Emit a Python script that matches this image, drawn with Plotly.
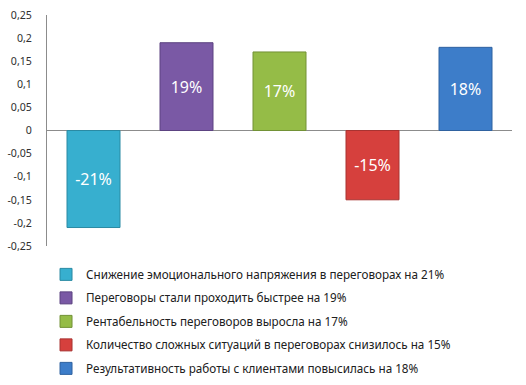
import plotly.graph_objects as go

series_names = [
    "Снижение эмоционального напряжения в переговорах на 21%",
    "Переговоры стали проходить быстрее на 19%",
    "Рентабельность переговоров выросла на 17%",
    "Количество сложных ситуаций в переговорах снизилось на 15%",
    "Результативность работы с клиентами повысилась на 18%",
]
values = [-0.21, 0.19, 0.17, -0.15, 0.18]
labels = ["-21%", "19%", "17%", "-15%", "18%"]
colors = ["#37AFCF", "#7A59A5", "#95BC47", "#D6403D", "#3D7DC9"]
lines = ["#2A8AA3", "#5C4381", "#729236", "#A83331", "#2F62A0"]
tick_vals = [0.25, 0.2, 0.15, 0.1, 0.05, 0, -0.05, -0.1, -0.15, -0.2, -0.25]
tick_text = ["0,25", "0,2", "0,15", "0,1", "0,05", "0", "-0,05", "-0,1", "-0,15", "-0,2", "-0,25"]

fig = go.Figure()
for i, (n, v, t, c, lc) in enumerate(zip(series_names, values, labels, colors, lines)):
    fig.add_trace(go.Bar(
        x=[i], y=[v], name=n, text=[t],
        textposition="inside", insidetextanchor="middle",
        textfont=dict(color="white", size=16, family="Noto Sans"),
        marker=dict(color=c, line=dict(color=lc, width=1)),
        width=0.57, legendgroup=str(i),
        hoverinfo="skip",
    ))

fig.update_layout(
    width=526, height=385,
    margin=dict(l=47, r=14, t=15, b=139, autoexpand=False),
    plot_bgcolor="white", paper_bgcolor="white",
    barmode="overlay",
    showlegend=True,
    legend=dict(
        xref="container", yref="container",
        x=0.0875, y=0.325, xanchor="left", yanchor="top",
        orientation="v", tracegroupgap=4.5,
        font=dict(family="Noto Sans", size=11.7, color="#202020"),
        itemwidth=30,
    ),
    xaxis=dict(range=[-0.5, 4.5], showticklabels=False, showgrid=False,
               zeroline=False, showline=False),
    yaxis=dict(range=[-0.25, 0.25], tickvals=tick_vals, ticktext=tick_text,
               showgrid=False, zeroline=True, zerolinecolor="#8C8C8C", zerolinewidth=1,
               showline=True, linecolor="#8C8C8C", linewidth=1,
               ticks="", ticklabelstandoff=12, ticklabeloverflow="allow",
               tickfont=dict(family="Noto Sans", size=10.6, color="#303030")),
)

fig.write_html("out.html", config={"displayModeBar": False},
               post_script="document.body.style.margin='0px';")
